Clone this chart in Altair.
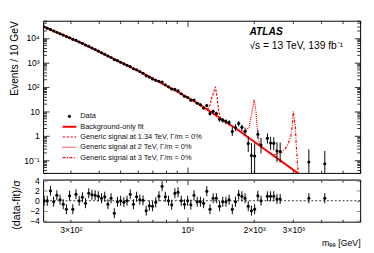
import altair as alt
import pandas as pd

# ---------------- values ----------------
# bin centres of the data points (GeV)
mass = [227.3, 234.9, 242.8, 250.9, 259.4, 268.1, 277.1, 286.4, 296.0, 306.0,
        316.3, 326.9, 337.9, 349.2, 360.9, 373.1, 385.6, 398.6, 412.0, 425.8,
        440.1, 454.9, 470.2, 486.0, 502.3, 519.2, 536.6, 554.6, 573.3, 592.5,
        612.4, 633.0, 654.3, 676.2, 699.0, 722.4, 746.7, 771.8, 797.7, 824.5,
        852.2, 880.8, 910.4, 941.0, 972.6, 1005.2, 1039.0, 1073.9, 1110.0, 1147.3,
        1185.8, 1225.6, 1266.8, 1309.3, 1353.3, 1398.8, 1445.8, 1494.3, 1544.5, 1596.4,
        1650.0, 1705.5, 1762.7, 1822.0, 1883.1, 1946.4, 2011.8, 2079.4, 2149.2,
        2296.0, 2373.2, 2452.9, 2535.3, 2620.5, 3528.0, 4160.0]
# events / 10 GeV
events = [28230, 24800, 22130, 19130, 16920, 14810, 12930, 11240, 10130, 8657,
          7850, 6805, 5960, 5090, 4500, 3860, 3330, 2870, 2460, 2140,
          1798, 1583, 1282, 1168, 1009, 864, 752, 673, 548, 496,
          419, 356, 279, 248, 209.6, 185.3, 167.3, 157.5, 121.6, 99.3,
          80.4, 79.6, 69.1, 51.9, 41.0, 36.6, 28.3, 28.7, 21.3, 18.4,
          13.55, 17.0, 7.99, 10.0, 8.14, 4.68, 4.32, 3.78, 3.47, 1.49,
          2.16, 3.14, 2.19, 1.47, 0.474, 0.153, 0.148, 1.145, 0.415,
          0.778, 0.502, 0.485, 0.235, 0.227, 0.0844, 0.0715]
# (data-fit)/sigma
pull = [0, 0, 2.0, -0.2, 1.1, 0.2, -0.7, -1.7, 1.0, -1.7,
        1.3, 0, 0.7, -0.5, 1.5, 1.2, 1.1, 0.9, 0.5, 0.8,
        -0.7, 0.5, -2.5, -0.2, 0, -0.3, 0, 1.3, -0.7, 0.8,
        0.2, 0.1, -2.0, -1.0, -1.1, -0.3, 0.9, 2.9, 0.8, 0,
        -0.8, 1.5, 1.7, 0, -0.7, 0, -0.8, 1.1, -0.2, -0.2,
        -0.5, 1.9, -1.7, 0.5, 0.5, -1.1, -0.2, -0.2, 0.2, -1.7,
        -0.2, 1.2, 0.9, 0.5, -1.1, -2.0, -1.7, 1.0, 0,
        0.9, 0.9, 0.9, 0.35, 0.35, 0.5, 0.5]
# visible error bars of the high-mass points (from the 50th point on)
tail_start = 49
tail_lo = [16.2, 11.7, 15.0, 6.62, 8.49, 6.80, 3.68, 3.38, 2.91, 2.65,
           0.975, 1.55, 2.41, 1.59, 0.99, 0.216, 0.0265, 0.0256, 0.749, 0.189,
           0.469, 0.262, 0.253, 0.0831, 0.0804, 0.0146, 0.0124]
tail_hi = [20.6, 15.4, 19.0, 9.36, 11.5, 9.48, 5.68, 5.26, 4.65, 4.29,
           2.23, 2.95, 3.95, 2.84, 2.14, 0.935, 0.505, 0.488, 1.71, 0.820,
           1.242, 0.898, 0.869, 0.544, 0.527, 0.278, 0.236]

# background-only fit
fit_mass = [225, 333.7, 611.8, 916, 1121.6, 1680, 3166]
fit_events = [29400, 6250, 417, 59.2, 20.3, 1.79, 0.028]

# generic signals (signal + background)
sig1_mass = [1228.7, 1260, 1292, 1340, 1366, 1387, 1415]
sig1_events = [11.8, 14.5, 36.3, 100, 33.1, 10, 5.01]
sig2_mass = [1680, 1821, 1897, 1955, 2000, 2036, 2067, 2120]
sig2_events = [1.79, 1.445, 2.19, 8.32, 29.4, 12.0, 1.91, 0.387]
sig3_mass = [2442, 2543, 2648, 2757, 2855, 2930, 2979, 3000, 3065, 3096, 3134, 3166]
sig3_events = [0.154, 0.185, 0.2, 0.288, 0.479, 1.0, 2.94, 10, 2.51, 0.398, 0.076, 0.025]

legend_labels = ["Data", "Background-only fit",
                 "Generic signal at 1.34 TeV, Γ/m = 0%",
                 "Generic signal at 2 TeV, Γ/m = 0%",
                 "Generic signal at 3 TeV, Γ/m = 0%"]

x_label_values = [300, 1000, 2000, 3000]
x_label_texts = ["3×10²", "10³", "2×10³", "3×10³"]
x_major = [1000]
x_minor = [300, 400, 500, 600, 700, 800, 900, 2000, 3000, 4000, 5000, 6000]
y_label_values = [0.1, 1, 10, 100, 1000, 10000]
y_label_texts = ["10⁻¹", "1", "10", "10²", "10³", "10⁴"]
y_minor = [k * 10.0 ** e for e in range(-2, 5) for k in range(2, 10)
           if 0.03 <= k * 10.0 ** e <= 50000]
pull_ticks = [-4, -2, 0, 2, 4]

# ---------------- styling ----------------
FONT = "Liberation Sans"
RED = "#ff0000"
xs = alt.Scale(type="log", domain=[225, 6000])
ys = alt.Scale(type="log", domain=[0.03, 50000])
ps = alt.Scale(domain=[-4.2, 4.2], zero=False, nice=False)


def label_expr(vals, texts):
    s = "''"
    for v, t in zip(vals, texts):
        s = f"abs(datum.value/{v}-1)<0.01 ? '{t}' : ({s})"
    return s


def inward(orient, values, size, **kw):
    d = dict(orient=orient, values=values, tickSize=size, offset=-size,
             domain=False, grid=False, labels=False, title=None,
             tickColor="black", tickWidth=0.8)
    d.update(kw)
    return alt.Axis(**d)


df = pd.DataFrame({"m": mass, "n": events, "pull": pull})
df["pl"] = df["pull"] - 1
df["ph"] = df["pull"] + 1
tail = pd.DataFrame({"m": mass[tail_start:], "lo": tail_lo, "hi": tail_hi})
fit_df = pd.DataFrame({"m": fit_mass, "n": fit_events})
s1 = pd.DataFrame({"m": sig1_mass, "n": sig1_events})
s2 = pd.DataFrame({"m": sig2_mass, "n": sig2_events})
s3 = pd.DataFrame({"m": sig3_mass, "n": sig3_events})
one = pd.DataFrame({"a": [0]})

# ---------------- top panel ----------------
fit = alt.Chart(fit_df).mark_line(color=RED, strokeWidth=2, clip=True).encode(
    x=alt.X("m:Q", scale=xs, axis=inward("bottom", x_major, 6)),
    y=alt.Y("n:Q", scale=ys, axis=inward(
        "left", y_label_values, 6, labels=True,
        labelExpr=label_expr(y_label_values, y_label_texts),
        labelPadding=4, labelFontSize=8.8, labelOverlap=False,
        title="Events / 10 GeV", titleAnchor="end", titlePadding=5,
        titleFontSize=10.5, titleFontWeight="normal")),
)
sig1 = alt.Chart(s1).mark_line(color=RED, strokeWidth=1.2, strokeDash=[2.5, 1.5], clip=True).encode(
    x=alt.X("m:Q", scale=xs, axis=inward("bottom", x_minor, 3)),
    y=alt.Y("n:Q", scale=ys, axis=inward("left", y_minor, 3.5)),
)
sig2 = alt.Chart(s2).mark_line(color=RED, strokeWidth=1.2, strokeDash=[1, 1], clip=True).encode(
    x=alt.X("m:Q", scale=xs, axis=inward("top", x_major, 6)),
    y=alt.Y("n:Q", scale=ys, axis=inward("right", y_label_values, 6)),
)
sig3 = alt.Chart(s3).mark_line(color=RED, strokeWidth=1.2, strokeDash=[3, 1.5, 1, 1.5], clip=True).encode(
    x=alt.X("m:Q", scale=xs, axis=inward("top", x_minor, 3)),
    y=alt.Y("n:Q", scale=ys, axis=inward("right", y_minor, 3.5)),
)
errs = alt.Chart(tail).mark_rule(color="black", strokeWidth=1, clip=True).encode(
    x=alt.X("m:Q", scale=xs, axis=None),
    y=alt.Y("lo:Q", scale=ys, axis=None),
    y2="hi:Q",
)
pts = alt.Chart(df).mark_circle(color="black", size=10, opacity=1, clip=True).encode(
    x=alt.X("m:Q", scale=xs, axis=None),
    y=alt.Y("n:Q", scale=ys, axis=None),
)

# legend (inside the top panel, lower left)
leg_x_sym0, leg_x_sym1, leg_x_txt = 20, 34, 38
leg_rows = [98, 108.6, 119.2, 129.8, 140.4]
leg_styles = [None, ([1, 0], 2), ([2.5, 1.5], 1.2), ([1, 1], 1.2), ([3, 1.5, 1, 1.5], 1.2)]
legend_layers = []
for lab, yy, sty in zip(legend_labels, leg_rows, leg_styles):
    if sty is None:
        legend_layers.append(alt.Chart(one).mark_circle(color="black", size=10, opacity=1).encode(
            x=alt.value((leg_x_sym0 + leg_x_sym1) / 2), y=alt.value(yy)))
    else:
        legend_layers.append(alt.Chart(one).mark_rule(color=RED, strokeWidth=sty[1], strokeDash=sty[0]).encode(
            x=alt.value(leg_x_sym0), x2=alt.value(leg_x_sym1), y=alt.value(yy)))
    legend_layers.append(alt.Chart(one).mark_text(
        text=lab, align="left", baseline="middle", font=FONT, fontSize=7.6, color="#111").encode(
        x=alt.value(leg_x_txt), y=alt.value(yy)))

atlas = alt.Chart(one).mark_text(text="ATLAS", font=FONT, fontSize=10.5, fontStyle="italic",
                                 fontWeight="bold", align="left", baseline="middle", color="black").encode(
    x=alt.value(211.5), y=alt.value(12))
energy = alt.Chart(one).mark_text(text="√s = 13 TeV, 139 fb⁻¹", font=FONT, fontSize=10.5,
                                  align="left", baseline="middle", color="black").encode(
    x=alt.value(211.5), y=alt.value(26))

top = alt.layer(fit, sig1, sig2, sig3, errs, pts, *legend_layers, atlas, energy).resolve_axis(
    x="independent", y="independent").properties(width=325, height=156)

# ---------------- bottom panel ----------------
zero = alt.Chart(one).mark_rule(color="black", strokeWidth=0.8, strokeDash=[2, 2]).encode(
    y=alt.YDatum(0, scale=ps, axis=None))
rpts = alt.Chart(df).mark_circle(color="black", size=10, opacity=1, clip=True).encode(
    x=alt.X("m:Q", scale=xs, axis=alt.Axis(
        orient="bottom", values=x_label_values, ticks=False, domain=False, grid=False,
        labelExpr=label_expr(x_label_values, x_label_texts), labelPadding=4,
        labelFontSize=8.8, labelOverlap=False, labelFlush=False,
        title="mₑₑ [GeV]", titleAnchor="end", titlePadding=5, titleFontSize=9,
        titleFontWeight="normal")),
    y=alt.Y("pull:Q", scale=ps, axis=inward(
        "left", pull_ticks, 4, labels=True, labelPadding=4, labelFontSize=8.8,
        labelExpr="datum.value < 0 ? '−' + abs(datum.value) : '' + datum.value",
        title="(data-fit)/σ", titleAnchor="end", titlePadding=8, titleFontSize=11,
        titleFontWeight="normal", tickColor="#666")),
)
rerr = alt.Chart(df).mark_rule(color="black", strokeWidth=1, clip=True).encode(
    x=alt.X("m:Q", scale=xs, axis=inward("bottom", x_major, 5)),
    y=alt.Y("pl:Q", scale=ps, axis=inward("right", pull_ticks, 4, tickColor="#666")),
    y2="ph:Q",
)
d1 = alt.Chart(df).mark_circle(opacity=0).encode(
    x=alt.X("m:Q", scale=xs, axis=inward("bottom", x_minor, 2.5)),
    y=alt.Y("pull:Q", scale=ps, axis=None))
d2 = alt.Chart(df).mark_circle(opacity=0).encode(
    x=alt.X("m:Q", scale=xs, axis=inward("top", x_major, 5)),
    y=alt.Y("pull:Q", scale=ps, axis=None))
d3 = alt.Chart(df).mark_circle(opacity=0).encode(
    x=alt.X("m:Q", scale=xs, axis=inward("top", x_minor, 2.5)),
    y=alt.Y("pull:Q", scale=ps, axis=None))
topline = alt.Chart(one).mark_rule(color="#888", strokeWidth=1.5).encode(y=alt.value(0))

bottom = alt.layer(zero, rerr, rpts, d1, d2, d3, topline).resolve_axis(
    x="independent", y="independent").properties(width=325, height=43)

chart = alt.vconcat(top, bottom, spacing=7, bounds="flush").properties(
    padding={"left": 0, "top": 9, "right": 4, "bottom": 0}
).configure(font=FONT).configure_view(stroke="black", strokeWidth=1).configure_axis(
    labelFont=FONT, titleFont=FONT, labelColor="black", titleColor="black",
    titleFontWeight="normal"
)

chart.save("out.html", embed_options={"renderer": "svg", "actions": False})
